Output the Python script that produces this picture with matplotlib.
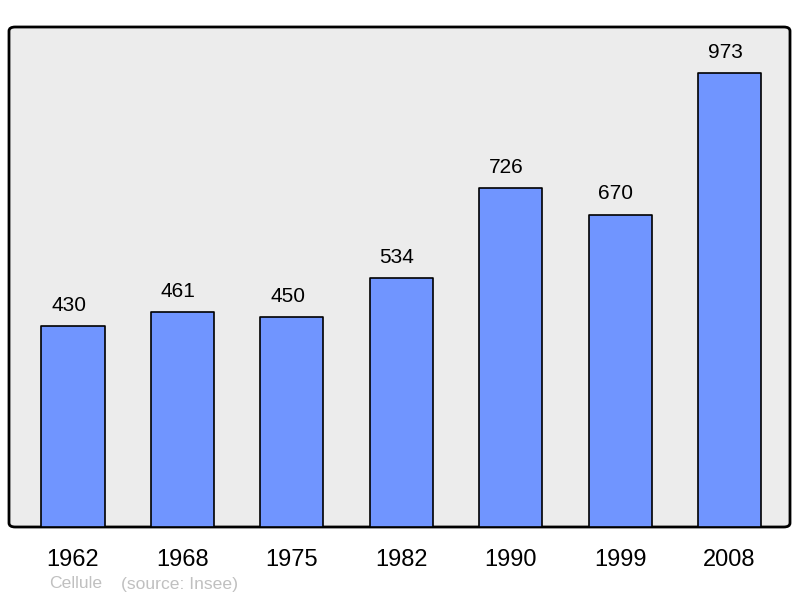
import matplotlib
matplotlib.use("Agg")
from matplotlib import pyplot as plt
from matplotlib.patches import FancyBboxPatch

# donnees
annees = ["1962", "1968", "1975", "1982", "1990", "1999", "2008"]
population = [430, 461, 450, 534, 726, 670, 973]

plt.rcParams['font.family'] = ['Liberation Sans', 'DejaVu Sans']

W, H = 800, 598
fig = plt.figure(figsize=(W / 100, H / 100), dpi=100)
fig.patch.set_facecolor("white")

# zone du graphique en pixels: x 9..790, y 27..527
ax = fig.add_axes([9 / W, 1 - 527 / H, 781 / W, 500 / H])
ax.set_facecolor("none")
for s in ax.spines.values():
    s.set_visible(False)

fond = FancyBboxPatch((0, 0), 1, 1, boxstyle="round,pad=0,rounding_size=0.008",
                      transform=ax.transAxes, facecolor="#ececec",
                      edgecolor="black", linewidth=2, zorder=0, clip_on=False)
ax.add_patch(fond)

x = list(range(len(annees)))
barres = ax.bar(x, population, width=0.576, color="#7095ff",
                edgecolor="black", linewidth=1.2, zorder=2)
for b in barres:
    b.set_joinstyle("round")

for xi, v in zip(x, population):
    ax.annotate(str(v), (xi, v), xytext=(-3, 15), textcoords="offset points",
                ha="center", va="center", fontsize=15, color="black")

ax.set_xlim(-0.585, 6.553)
ax.set_ylim(0, 1072)
ax.set_xticks(x)
ax.set_xticklabels(annees, fontsize=17)
ax.tick_params(axis="x", length=0, pad=16)
ax.set_yticks([])

fig.text(49 / W, 1 - 584 / H, "Cellule", fontsize=12.6, color="#c0c0c0",
         ha="left", va="center")
fig.text(121 / W, 1 - 584 / H, "(source: Insee)", fontsize=12.6, color="#c0c0c0",
         ha="left", va="center")

fig.savefig("out.png", dpi=100)
